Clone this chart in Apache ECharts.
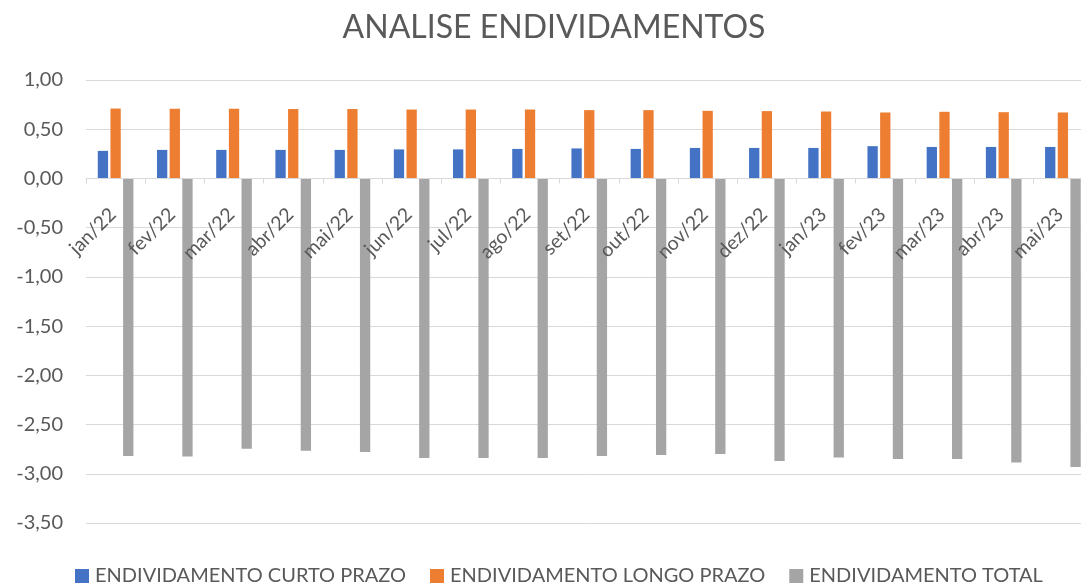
<!DOCTYPE html>
<html><head><meta charset="utf-8">
<script src="https://cdn.jsdelivr.net/npm/echarts@6/dist/echarts.min.js"></script>
<style>html,body{margin:0;padding:0;background:#fff;overflow:hidden;width:1081px;height:584px}#c{width:1108px;height:584px}</style>
</head><body><div id="c"></div>
<script>
const categories = ['jan/22','fev/22','mar/22','abr/22','mai/22','jun/22','jul/22','ago/22','set/22','out/22','nov/22','dez/22','jan/23','fev/23','mar/23','abr/23','mai/23'];
const curtoPrazo = [0.28,0.29,0.29,0.29,0.29,0.295,0.295,0.30,0.305,0.30,0.31,0.31,0.31,0.328,0.32,0.32,0.32];
const longoPrazo = [0.71,0.708,0.708,0.705,0.705,0.70,0.70,0.70,0.694,0.694,0.687,0.684,0.68,0.67,0.677,0.673,0.67];
const total = [-2.82,-2.825,-2.745,-2.765,-2.78,-2.84,-2.84,-2.84,-2.82,-2.81,-2.80,-2.87,-2.835,-2.85,-2.85,-2.885,-2.93];
const seriesNames = ['ENDIVIDAMENTO CURTO PRAZO','ENDIVIDAMENTO LONGO PRAZO','ENDIVIDAMENTO TOTAL'];
const colors = ['#4472C4','#ED7D31','#A5A5A5'];
const yMin = -3.5, yMax = 1;
const font = 'Lato, "Open Sans", sans-serif';
const gridTop = 80, gridBottom = 61, H = 584;
const gridH = H - gridTop - gridBottom;
const zeroOffset = -gridH * (0 - yMin) / (yMax - yMin);
const chart = echarts.init(document.getElementById('c'), null, {renderer:'canvas'});
chart.setOption({
  animation:false,
  color: colors,
  title:{text:'ANALISE ENDIVIDAMENTOS', left:'center', top:7, textStyle:{fontFamily:font, fontSize:32, fontWeight:'normal', color:'#595959'}},
  legend:{top:566, left:75, padding:0, itemWidth:14, itemHeight:14, itemGap:24, icon:'rect',
    textStyle:{fontFamily:font, fontSize:20, color:'#595959', padding:[0,0,0,1]}, data:seriesNames},
  grid:{left:86, right:15.5, top:gridTop, bottom:gridBottom, containLabel:false},
  xAxis:{type:'category', data:categories, position:'bottom', offset:zeroOffset, z:3,
    axisLine:{show:true, onZero:false, lineStyle:{color:'#d9d9d9', width:1}},
    axisTick:{show:true, length:5, lineStyle:{color:'#d9d9d9'}},
    axisLabel:{rotate:45, fontFamily:font, fontSize:19.5, color:'#595959', margin:30, padding:[0,4,0,0]}},
  yAxis:{type:'value', min:yMin, max:yMax, interval:0.5,
    axisLine:{show:false}, axisTick:{show:false},
    splitLine:{lineStyle:{color:'#d9d9d9', width:1}},
    axisLabel:{fontFamily:font, fontSize:20, color:'#595959', margin:23,
      formatter:v=>v.toFixed(2).replace('.',',')}},
  series:[
    {name:seriesNames[0], type:'bar', data:curtoPrazo, barWidth:10.3, barGap:'23%'},
    {name:seriesNames[1], type:'bar', data:longoPrazo, barWidth:10.3, barGap:'23%'},
    {name:seriesNames[2], type:'bar', data:total, barWidth:10.3, barGap:'23%'}
  ]
});
</script></body></html>
